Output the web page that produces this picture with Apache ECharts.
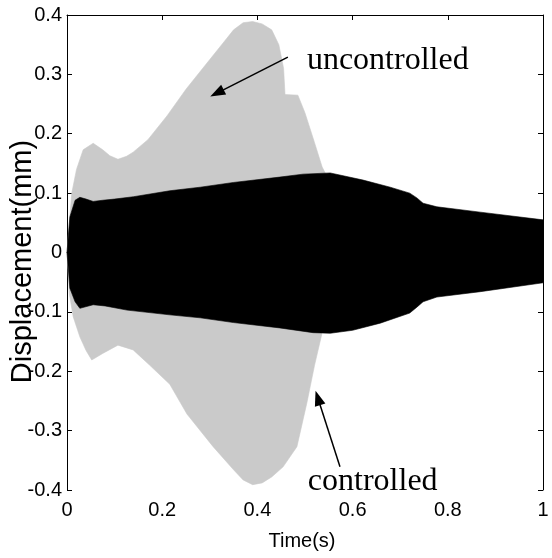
<!DOCTYPE html>
<html lang="en">
<head>
    <meta charset="UTF-8">
    <title></title>
    <script type="text/javascript" src="https://cdn.jsdelivr.net/npm/echarts@6/dist/echarts.min.js"></script>
    <style>body{margin:0;background:#fff}</style>
</head>
<body>
<div id="test" style="width: 552px;height: 558px"></div>
</body>
</html>
<script type="text/javascript">
    // envelope of the uncontrolled response (grey)
    var uncTopT = [0, 0.005, 0.01, 0.02, 0.034, 0.055, 0.075, 0.09, 0.107, 0.125, 0.139, 0.17, 0.21, 0.25, 0.3, 0.33, 0.35, 0.37, 0.39, 0.41, 0.43, 0.445, 0.455, 0.458, 0.485, 0.5, 0.52, 0.536, 0.545];
    var uncTopV = [0, 0.05, 0.1, 0.14, 0.173, 0.184, 0.173, 0.163, 0.157, 0.162, 0.169, 0.19, 0.23, 0.275, 0.325, 0.355, 0.375, 0.387, 0.389, 0.385, 0.375, 0.35, 0.31, 0.266, 0.265, 0.235, 0.185, 0.144, 0.13];
    var uncBotT = [0, 0.005, 0.013, 0.027, 0.04, 0.052, 0.075, 0.107, 0.139, 0.174, 0.216, 0.252, 0.307, 0.35, 0.37, 0.39, 0.41, 0.43, 0.454, 0.483, 0.504, 0.52, 0.536, 0.545];
    var uncBotV = [0, -0.07, -0.108, -0.142, -0.165, -0.181, -0.17, -0.156, -0.164, -0.19, -0.222, -0.272, -0.327, -0.366, -0.383, -0.391, -0.388, -0.378, -0.361, -0.327, -0.253, -0.19, -0.135, -0.13];

    // envelope of the controlled response (black)
    var ctlTopT = [0, 0.006, 0.017, 0.027, 0.04, 0.055, 0.075, 0.1, 0.14, 0.216, 0.28, 0.35, 0.447, 0.496, 0.553, 0.622, 0.679, 0.72, 0.735, 0.748, 0.777, 0.868, 1.0];
    var ctlTopV = [0, 0.06, 0.088, 0.093, 0.09, 0.086, 0.088, 0.09, 0.094, 0.104, 0.11, 0.118, 0.127, 0.132, 0.134, 0.122, 0.11, 0.1, 0.092, 0.083, 0.077, 0.068, 0.055];
    var ctlBotT = [0, 0.006, 0.017, 0.027, 0.055, 0.08, 0.126, 0.216, 0.28, 0.35, 0.447, 0.517, 0.553, 0.6, 0.658, 0.72, 0.735, 0.748, 0.777, 0.868, 1.0];
    var ctlBotV = [0, -0.06, -0.083, -0.094, -0.088, -0.09, -0.097, -0.105, -0.11, -0.118, -0.127, -0.135, -0.136, -0.131, -0.119, -0.102, -0.092, -0.083, -0.075, -0.066, -0.051];

    // annotations, in data units
    var uncArrow = [[0.464, 0.329], [0.315, 0.2685]];
    var ctlArrow = [[0.5735, -0.361], [0.527, -0.245]];
    var uncLabel = [0.504, 0.3224];
    var ctlLabel = [0.506, -0.386];

    var sans = "'Liberation Sans', Arial, sans-serif";
    var GREY = '#cacaca';

    // closed polygon: upper edge left->right, lower edge right->left
    function envelope(name, topT, topV, botT, botV, color, markLine) {
        return {
            type: 'custom',
            name: name,
            coordinateSystem: 'cartesian2d',
            silent: true,
            data: [[0, 0]],
            encode: {x: 0, y: 1},
            markLine: markLine,
            renderItem: function (params, api) {
                var pts = [];
                for (var i = 0; i < topT.length; i++) pts.push(api.coord([topT[i], topV[i]]));
                for (var j = botT.length - 1; j >= 0; j--) pts.push(api.coord([botT[j], botV[j]]));
                return {
                    type: 'polygon',
                    shape: {points: pts},
                    style: {fill: color, stroke: color, lineWidth: 0.6}
                };
            }
        };
    }

    function arrow(a) {
        return {
            silent: true,
            symbol: ['none', 'triangle'],
            symbolSize: [11, 15],
            label: {show: false},
            lineStyle: {color: '#000', width: 1.5, type: 'solid'},
            data: [[{coord: a[0]}, {coord: a[1]}]]
        };
    }

    var myChart = echarts.init(document.getElementById('test'));
    var frameTick = {show: true, inside: true, length: 5, lineStyle: {color: '#000'}};
    var option = {
        backgroundColor: '#fff',
        animation: false,
        grid: {left: 67, right: 9, top: 15, bottom: 68, outerBoundsMode: 'none'},
        xAxis: [{
            type: 'value', min: 0, max: 1, interval: 0.2,
            axisLine: {lineStyle: {color: '#000', width: 1}},
            axisTick: frameTick,
            splitLine: {show: false},
            axisLabel: {color: '#000', fontFamily: sans, fontSize: 20, margin: 10},
            name: 'Time(s)', nameLocation: 'middle', nameGap: 41, nameMoveOverlap: false,
            nameTextStyle: {color: '#000', fontFamily: sans, fontSize: 20, padding: [0, 6, 0, 0]}
        }, {
            type: 'value', min: 0, max: 1, interval: 0.2, position: 'top',
            axisLine: {show: true, onZero: false, lineStyle: {color: '#000', width: 1}},
            axisTick: frameTick, axisLabel: {show: false}, splitLine: {show: false}
        }],
        yAxis: [{
            type: 'value', min: -0.4, max: 0.4, interval: 0.1,
            axisLine: {show: true, onZero: false, lineStyle: {color: '#000', width: 1}},
            axisTick: frameTick,
            splitLine: {show: false},
            axisLabel: {color: '#000', fontFamily: sans, fontSize: 20, margin: 5},
            name: 'Displacement(mm)', nameLocation: 'middle', nameGap: 30, nameMoveOverlap: false,
            nameTextStyle: {color: '#000', fontFamily: sans, fontSize: 29, padding: [0, 18, 0, 0]}
        }, {
            type: 'value', min: -0.4, max: 0.4, interval: 0.1, position: 'right',
            axisLine: {show: true, onZero: false, lineStyle: {color: '#000', width: 1}},
            axisTick: frameTick, axisLabel: {show: false}, splitLine: {show: false}
        }],
        series: [
            envelope('uncontrolled', uncTopT, uncTopV, uncBotT, uncBotV, GREY, arrow(uncArrow)),
            envelope('controlled', ctlTopT, ctlTopV, ctlBotT, ctlBotV, '#000', arrow(ctlArrow))
        ]
    };
    myChart.setOption(option);

    var p1 = myChart.convertToPixel({gridIndex: 0}, uncLabel);
    var p2 = myChart.convertToPixel({gridIndex: 0}, ctlLabel);
    myChart.setOption({
        graphic: [
            {type: 'text', x: p1[0], y: p1[1], z: 100, style: {text: 'uncontrolled', font: '32px "Liberation Serif"', fill: '#000', verticalAlign: 'middle'}},
            {type: 'text', x: p2[0], y: p2[1], z: 100, style: {text: 'controlled', font: '32px "Liberation Serif"', fill: '#000', verticalAlign: 'middle'}}
        ]
    });
</script>
